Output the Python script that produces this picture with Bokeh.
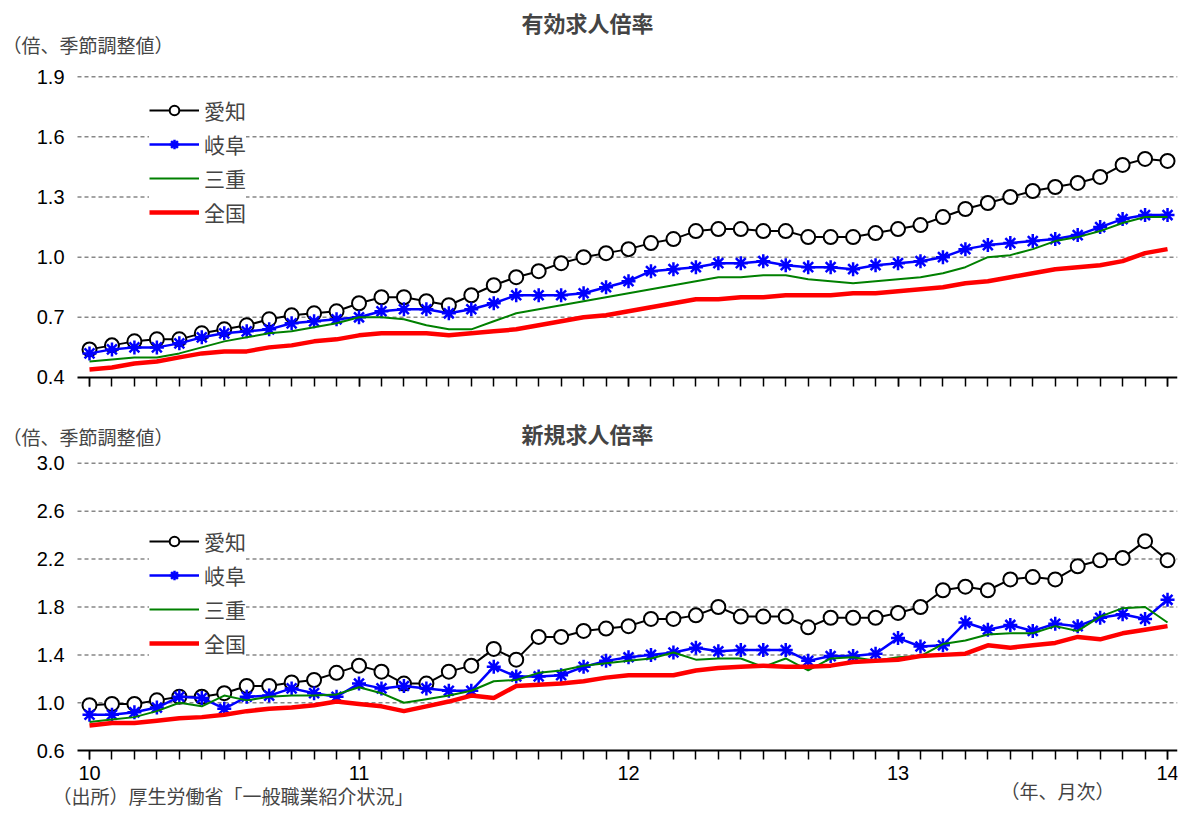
from bokeh.embed import file_html
from bokeh.resources import INLINE
from bokeh.layouts import column
from bokeh.core.properties import value
from bokeh.models import FixedTicker, Range1d, Legend, Label
from bokeh.plotting import figure

# monthly, Jan 2010 .. Jan 2014
months = [10 + i / 12 for i in range(49)]

# 有効求人倍率
eff_aichi = [.54, .56, .58, .59, .59, .62, .64, .66, .69, .71,
             .72, .73, .77, .80, .80, .78, .76, .81, .86, .90,
             .93, .97, 1.00, 1.02, 1.04, 1.07, 1.09, 1.13, 1.14, 1.14,
             1.13, 1.13, 1.10, 1.10, 1.10, 1.12, 1.14, 1.16, 1.20, 1.24,
             1.27, 1.30, 1.33, 1.35, 1.37, 1.40, 1.46, 1.49, 1.48]
eff_gifu = [.52, .54, .55, .55, .57, .60, .62, .63, .64, .67,
            .68, .69, .70, .73, .74, .74, .72, .74, .77, .81,
            .81, .81, .82, .85, .88, .93, .94, .95, .97, .97,
            .98, .96, .95, .95, .94, .96, .97, .98, 1.00, 1.04,
            1.06, 1.07, 1.08, 1.09, 1.11, 1.15, 1.19, 1.21, 1.21]
eff_mie = [.48, .49, .50, .50, .52, .55, .58, .60, .62, .63,
           .65, .67, .70, .70, .69, .66, .64, .64, .68, .72,
           .74, .76, .78, .80, .82, .84, .86, .88, .90, .90,
           .91, .91, .89, .88, .87, .88, .89, .90, .92, .95,
           1.00, 1.01, 1.04, 1.08, 1.10, 1.13, 1.17, 1.20, 1.20]
eff_nat = [.44, .45, .47, .48, .50, .52, .53, .53, .55, .56,
           .58, .59, .61, .62, .62, .62, .61, .62, .63, .64,
           .66, .68, .70, .71, .73, .75, .77, .79, .79, .80,
           .80, .81, .81, .81, .82, .82, .83, .84, .85, .87,
           .88, .90, .92, .94, .95, .96, .98, 1.02, 1.04]

# 新規求人倍率
new_aichi = [.98, .99, .99, 1.02, 1.05, 1.05, 1.08, 1.14, 1.14, 1.17,
             1.19, 1.25, 1.31, 1.26, 1.16, 1.16, 1.26, 1.31, 1.45, 1.36,
             1.55, 1.55, 1.60, 1.62, 1.64, 1.70, 1.70, 1.73, 1.80, 1.72,
             1.72, 1.72, 1.63, 1.71, 1.71, 1.71, 1.75, 1.80, 1.94, 1.97,
             1.94, 2.03, 2.05, 2.03, 2.14, 2.19, 2.21, 2.35, 2.19]
new_gifu = [.90, .90, .92, .96, 1.05, 1.04, .95, 1.05, 1.06, 1.12,
            1.08, 1.05, 1.16, 1.12, 1.14, 1.12, 1.10, 1.10, 1.30, 1.22,
            1.22, 1.23, 1.30, 1.35, 1.38, 1.40, 1.42, 1.46, 1.43, 1.44,
            1.44, 1.44, 1.35, 1.39, 1.39, 1.41, 1.54, 1.47, 1.48, 1.67,
            1.61, 1.65, 1.60, 1.66, 1.64, 1.71, 1.74, 1.70, 1.86]
new_mie = [.84, .86, .88, .93, 1.00, .97, 1.06, 1.02, 1.05, 1.06,
           1.06, 1.07, 1.13, 1.08, 1.00, 1.03, 1.06, 1.10, 1.18, 1.19,
           1.25, 1.27, 1.31, 1.33, 1.35, 1.37, 1.42, 1.36, 1.37, 1.37,
           1.30, 1.37, 1.27, 1.37, 1.38, 1.35, 1.38, 1.39, 1.49, 1.52,
           1.57, 1.58, 1.58, 1.64, 1.60, 1.72, 1.79, 1.80, 1.67]
new_nat = [.81, .83, .83, .85, .87, .88, .90, .93, .95, .96,
           .98, 1.01, .99, .97, .93, .97, 1.01, 1.06, 1.04, 1.14,
           1.15, 1.16, 1.18, 1.21, 1.23, 1.23, 1.23, 1.27, 1.29, 1.30,
           1.31, 1.30, 1.30, 1.31, 1.34, 1.35, 1.36, 1.39, 1.40, 1.41,
           1.48, 1.46, 1.48, 1.50, 1.55, 1.53, 1.58, 1.61, 1.64]

names = ["愛知", "岐阜", "三重", "全国"]
year_ticks = [10, 11, 12, 13, 14]
top_ticks = [0.4, 0.7, 1.0, 1.3, 1.6, 1.9]
bot_ticks = [0.6, 1.0, 1.4, 1.8, 2.2, 2.6, 3.0]

JP = "Noto Sans CJK JP"
NUM = "Liberation Sans"
PX_YEAR = 269.5                      # pixels per year on the x axis
X0 = 10 - 89 / PX_YEAR               # frame starts at the page edge
X1 = 14.037
XL = 10 - 12 / PX_YEAR               # left end of plot area (grid, axis)


def make_fig(height, yr, yticks, series, legend_loc, title, unit_y, title_y):
    p = figure(width=1180, height=height, output_backend="svg", toolbar_location=None,
               x_range=Range1d(X0, X1), y_range=Range1d(*yr),
               min_border_left=0, min_border_right=3, min_border_top=0, min_border_bottom=0)
    p.outline_line_color = None
    p.grid.visible = False
    p.yaxis.visible = False

    # dashed grid lines and y tick labels from the tick list
    grid = [t for t in yticks if t != yticks[0]]
    p.segment(x0=[XL] * len(grid), x1=[X1] * len(grid), y0=grid, y1=grid,
              line_color="#888888", line_dash="4 3", line_width=1.5)
    p.text(x=[XL - 13 / PX_YEAR] * len(yticks), y=yticks, text=[f"{t:.1f}" for t in yticks],
           text_font=value(NUM), text_font_size="20px", text_align="right",
           text_baseline="middle", text_color="black")

    xa = p.xaxis[0]
    xa.fixed_location = yticks[0]
    xa.bounds = (XL, X1)
    xa.ticker = FixedTicker(ticks=year_ticks, minor_ticks=months)
    xa.axis_line_width = 2
    xa.axis_line_color = "black"
    xa.major_tick_in = 0
    xa.major_tick_out = 9
    xa.minor_tick_in = 0
    xa.minor_tick_out = 9
    xa.major_tick_line_width = 1.5
    xa.minor_tick_line_width = 1.5
    xa.major_label_text_font = NUM
    xa.major_label_text_font_size = "20px"
    xa.major_label_text_color = "black"
    xa.major_label_standoff = 6

    a, g, m, n = series
    items = []
    r1 = p.line(months, a, line_color="black", line_width=2)
    r2 = p.scatter(months, a, marker="circle", size=14, fill_color="white",
                   line_color="black", line_width=2)
    items.append((names[0], [r1, r2]))
    r3 = p.line(months, g, line_color="blue", line_width=2.5)
    r4 = p.scatter(months, g, marker="asterisk", size=14, line_color="blue", line_width=2.5)
    items.append((names[1], [r3, r4]))
    r5 = p.line(months, m, line_color="green", line_width=2)
    items.append((names[2], [r5]))
    r6 = p.line(months, n, line_color="red", line_width=4.5)
    items.append((names[3], [r6]))

    leg = Legend(items=items, location=legend_loc)
    leg.label_text_font = JP
    leg.label_text_font_size = "21px"
    leg.glyph_width = 50
    leg.glyph_height = 24
    leg.label_height = 24
    leg.spacing = 4
    leg.padding = 5
    leg.border_line_color = None
    leg.background_fill_alpha = 1
    p.add_layout(leg)

    p.add_layout(Label(x=11.848, y=title_y, text=title, text_font=JP, text_font_size="22px",
                       text_font_style="bold", text_align="center", text_baseline="middle"))
    p.add_layout(Label(x=10 - 87 / PX_YEAR, y=unit_y, text="（倍、季節調整値）", text_font=JP,
                       text_font_size="19px", text_baseline="middle"))
    return p


PX_TOP = 0.3 / 60
PX_BOT = 0.4 / 48
top = make_fig(395, (0.4 - 18 * PX_TOP, 1.9 + 76 * PX_TOP), top_ticks,
               (eff_aichi, eff_gifu, eff_mie, eff_nat), (149, 168), "有効求人倍率",
               1.9 + 32 * PX_TOP, 1.9 + 55 * PX_TOP)
top.xaxis.major_label_overrides = {t: " " for t in year_ticks}

bot = make_fig(415, (0.6 - 60 * PX_BOT, 3.0 + 68 * PX_BOT), bot_ticks,
               (new_aichi, new_gifu, new_mie, new_nat), (149, 152), "新規求人倍率",
               3.0 + 27 * PX_BOT, 3.0 + 30 * PX_BOT)
bot.add_layout(Label(x=10 - 37 / PX_YEAR, y=0.6 - 45 * PX_BOT,
                     text="（出所）厚生労働省「一般職業紹介状況」", text_font=JP,
                     text_font_size="19px", text_baseline="middle"))
bot.add_layout(Label(x=10 + 968 / PX_YEAR, y=0.6 - 40 * PX_BOT, text="（年、月次）",
                     text_font=JP, text_font_size="19px", text_align="center",
                     text_baseline="middle"))

layout = column(top, bot, spacing=0)
open("out.html", "w").write(file_html(layout, INLINE))
